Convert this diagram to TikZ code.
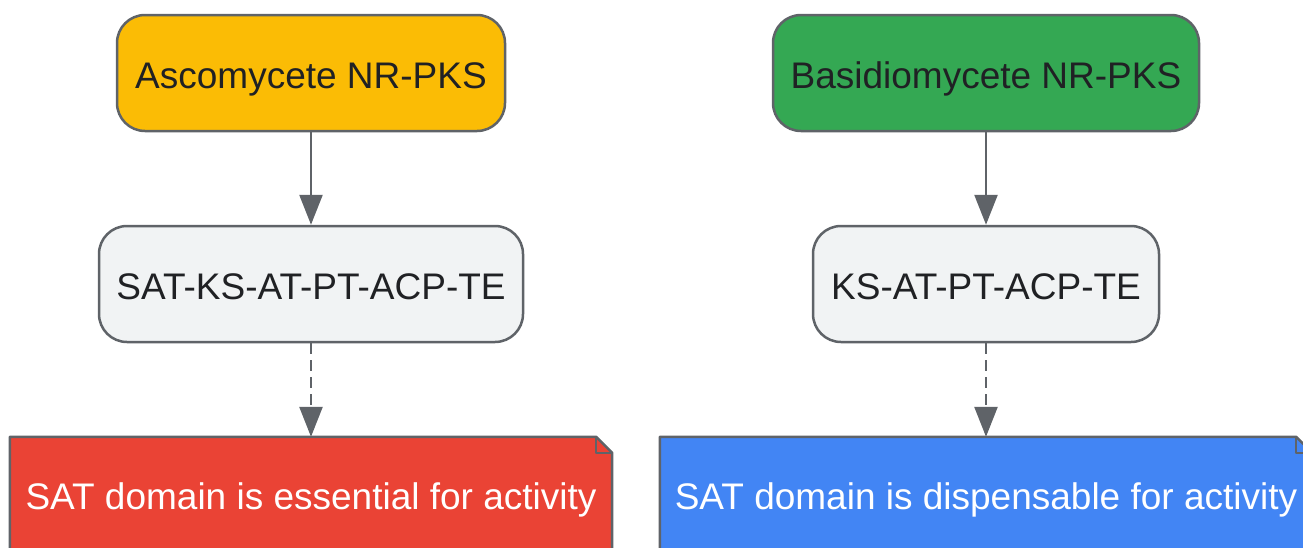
\documentclass[tikz,border=0pt]{standalone}
\usepackage{fontspec}
\setmainfont{Liberation Sans}
\usetikzlibrary{arrows.meta}
\definecolor{edge}{HTML}{5F6368}
\definecolor{ink}{HTML}{202124}
\definecolor{gyellow}{HTML}{FBBC05}
\definecolor{ggreen}{HTML}{34A853}
\definecolor{ggray}{HTML}{F1F3F4}
\definecolor{gred}{HTML}{EA4335}
\definecolor{gblue}{HTML}{4285F4}
\tikzset{
  lbl/.style={font=\fontsize{37}{44}\selectfont, text height=30.5pt, text depth=0pt},
  box/.style={draw=edge, line width=2.5pt, rounded corners=28pt, minimum height=116pt,
    inner sep=0pt, text=ink, lbl},
  notebox/.style={minimum height=120pt, inner sep=0pt},
  arr/.style={draw=edge, line width=2.5pt, -{Triangle[length=30pt,width=23pt]}},
  darr/.style={arr, dash pattern=on 11pt off 6pt},
}
\begin{document}
\begin{tikzpicture}[x=1pt,y=-1pt]
\useasboundingbox (0,0) rectangle (1303,547);
\clip (0,0) rectangle (1303,547);
\node[box, fill=gyellow, minimum width=388pt] (asco) at (311,73) {Ascomycete NR-PKS};
\node[box, fill=ggreen, minimum width=426pt] (basi) at (986,73) {Basidiomycete NR-PKS};
\node[box, fill=ggray, minimum width=424pt] (dom1) at (311,284) {SAT-KS-AT-PT-ACP-TE};
\node[box, fill=ggray, minimum width=346pt] (dom2) at (986,284) {KS-AT-PT-ACP-TE};
\node[notebox, minimum width=602pt] (ess) at (311,497) {};
\node[notebox, minimum width=652pt] (dis) at (986,497) {};
% note shapes
\foreach \n/\c in {ess/gred, dis/gblue}{
  \draw[draw=edge, line width=2.5pt, fill=\c, line join=round]
    (\n.north west) -- ([xshift=-16pt]\n.north east) -- ([yshift=-16pt]\n.north east)
    -- (\n.south east) -- (\n.south west) -- cycle;
  \draw[draw=edge, line width=2.5pt, line join=round]
    ([xshift=-16pt]\n.north east) -- ([xshift=-16pt,yshift=-16pt]\n.north east) -- ([yshift=-16pt]\n.north east);
}
\node[lbl, text=white, inner sep=0pt] (esst) at (311,494) {SAT domain is essential for activity};
\node[lbl, text=white, inner sep=0pt] (dist) at (986,494) {SAT domain is dispensable for activity};
\draw[arr] (asco) -- (dom1);
\draw[arr] (basi) -- (dom2);
\draw[darr] (dom1) -- (ess.north);
\draw[darr] (dom2) -- (dis.north);
\end{tikzpicture}
\end{document}
